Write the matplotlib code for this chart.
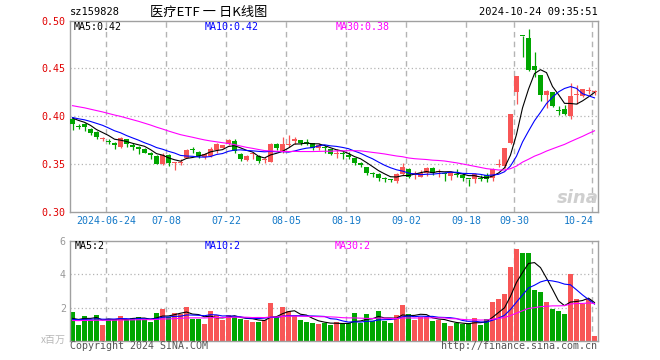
import math
import numpy as np
import matplotlib
matplotlib.use("Agg")
import matplotlib.pyplot as plt
import matplotlib.transforms as mtransforms

# ---------------- data ----------------
open_ = [0.397, 0.390, 0.392, 0.387, 0.383, 0.3765, 0.3737, 0.372, 0.368, 0.3757,
         0.3695, 0.368, 0.3653, 0.3615, 0.3583, 0.350, 0.359, 0.3512, 0.3513, 0.3563,
         0.3648, 0.3625, 0.3575, 0.3583, 0.3646, 0.3672, 0.3708, 0.3743, 0.3604, 0.3542,
         0.3601, 0.3583, 0.3546, 0.352, 0.3708, 0.3632, 0.3700, 0.3736, 0.375, 0.3716,
         0.3715, 0.3667, 0.3668, 0.3655, 0.3604, 0.3605, 0.3597, 0.3562, 0.3507, 0.3472,
         0.3397, 0.3396, 0.3342, 0.3335, 0.3326, 0.3396, 0.3451, 0.3389, 0.3368, 0.341,
         0.3458, 0.342, 0.3397, 0.3375, 0.339, 0.3389, 0.3342, 0.334, 0.335, 0.3382,
         0.3348, 0.3491, 0.3476, 0.3719, 0.4257, 0.4845, 0.4819, 0.4521, 0.4431, 0.4222,
         0.425, 0.4058, 0.4077, 0.4007, 0.4222, 0.4215, 0.4262, 0.4250]
high = [0.399, 0.392, 0.393, 0.388, 0.384, 0.3785, 0.3765, 0.3725, 0.378, 0.3764,
        0.3715, 0.369, 0.3667, 0.3625, 0.359, 0.3618, 0.360, 0.3525, 0.3555, 0.3653,
        0.368, 0.3635, 0.361, 0.3674, 0.3715, 0.370, 0.3764, 0.3757, 0.3611, 0.3597,
        0.3625, 0.359, 0.357, 0.3715, 0.3722, 0.3785, 0.3799, 0.3778, 0.375, 0.3757,
        0.3715, 0.3715, 0.3694, 0.3655, 0.366, 0.3632, 0.3625, 0.3562, 0.3521, 0.3472,
        0.3417, 0.341, 0.3368, 0.3347, 0.3403, 0.3514, 0.3458, 0.3424, 0.3438, 0.3465,
        0.3472, 0.3451, 0.3417, 0.3424, 0.3451, 0.3403, 0.3347, 0.341, 0.3382, 0.3403,
        0.3458, 0.3556, 0.3663, 0.4018, 0.4417, 0.4845, 0.491, 0.4674, 0.4431, 0.4271,
        0.425, 0.4104, 0.4118, 0.4347, 0.4326, 0.4285, 0.4306, 0.4271]
low = [0.386, 0.387, 0.384, 0.3805, 0.376, 0.3745, 0.371, 0.366, 0.367, 0.368,
       0.3646, 0.360, 0.361, 0.3556, 0.3495, 0.3493, 0.3483, 0.3435, 0.3485, 0.356,
       0.361, 0.3563, 0.3548, 0.3576, 0.361, 0.3669, 0.3701, 0.3611, 0.3535, 0.3535,
       0.3556, 0.3514, 0.3507, 0.352, 0.3646, 0.3618, 0.368, 0.3708, 0.3694, 0.3694,
       0.3646, 0.3646, 0.3611, 0.359, 0.3562, 0.3555, 0.3555, 0.3493, 0.3472, 0.3389,
       0.3361, 0.3326, 0.3306, 0.3306, 0.3299, 0.3382, 0.3354, 0.3347, 0.3361, 0.3375,
       0.3389, 0.3368, 0.3326, 0.3333, 0.3368, 0.3326, 0.3271, 0.330, 0.332, 0.3306,
       0.332, 0.3472, 0.3455, 0.3712, 0.4125, 0.4622, 0.447, 0.441, 0.416, 0.409,
       0.4097, 0.4014, 0.4014, 0.3972, 0.4125, 0.4201, 0.4236, 0.4222]
close = [0.392, 0.389, 0.389, 0.382, 0.378, 0.3768, 0.3733, 0.3695, 0.377, 0.371,
         0.3674, 0.3653, 0.3618, 0.3595, 0.350, 0.3597, 0.351, 0.3518, 0.352, 0.3645,
         0.3645, 0.3583, 0.360, 0.366, 0.3712, 0.3694, 0.375, 0.3639, 0.3549, 0.3583,
         0.3604, 0.3528, 0.355, 0.3708, 0.3667, 0.3708, 0.3702, 0.3757, 0.3715, 0.3714,
         0.3667, 0.3701, 0.3666, 0.3600, 0.3608, 0.3602, 0.3569, 0.3507, 0.3486, 0.341,
         0.3394, 0.3354, 0.334, 0.3333, 0.3396, 0.3465, 0.3361, 0.341, 0.341, 0.3458,
         0.3403, 0.3424, 0.3393, 0.3417, 0.3387, 0.3354, 0.3338, 0.339, 0.3346, 0.3341,
         0.3452, 0.3494, 0.3663, 0.4018, 0.4417, 0.4838, 0.4479, 0.4479, 0.4222, 0.4264,
         0.4111, 0.4055, 0.4021, 0.4215, 0.4230, 0.4280, 0.4265, 0.4255]
volume = [1.74, 0.98, 1.5, 1.26, 1.56, 0.98, 1.3, 1.3, 1.5, 1.3,
          1.36, 1.42, 1.3, 1.16, 1.68, 1.92, 1.45, 1.68, 1.6, 2.05,
          1.3, 1.3, 1.02, 1.8, 1.55, 1.26, 1.55, 1.42, 1.3, 1.26,
          1.16, 1.16, 1.26, 2.3, 1.42, 2.05, 1.8, 1.5, 1.26, 1.16,
          1.1, 1.04, 1.1, 0.96, 1.13, 1.02, 1.08, 1.68, 1.1, 1.62,
          1.18, 1.8, 1.22, 1.08, 1.56, 2.16, 1.62, 1.26, 1.42, 1.46,
          1.2, 1.26, 1.1, 0.92, 1.08, 1.0, 1.08, 1.38, 0.96, 1.34,
          2.34, 2.52, 2.8, 4.43, 5.5, 5.27, 5.27, 3.05, 2.93, 2.34,
          1.92, 1.8, 1.62, 4.0, 2.52, 2.2, 2.52, 0.3]
# closes / volumes of the 29 sessions before the first visible one (for the MA lines)
prior_close = [0.424, 0.422, 0.425, 0.421, 0.419, 0.422, 0.418, 0.420, 0.423, 0.419,
               0.417, 0.420, 0.418, 0.416, 0.419, 0.414, 0.410, 0.408, 0.406, 0.404,
               0.402, 0.400, 0.399, 0.398, 0.397, 0.401, 0.399, 0.398, 0.400]
prior_volume = [1.2, 1.1, 1.3, 1.2, 1.15, 1.25, 1.1, 1.2, 1.3, 1.15,
                1.2, 1.1, 1.25, 1.2, 1.15, 1.3, 1.2, 1.1, 1.25, 1.2,
                1.3, 1.2, 1.25, 1.3, 1.2, 1.3, 1.2, 1.25, 1.3]
tick_index = [6, 16, 26, 36, 46, 56, 66, 74, 87]
tick_labels = ["2024-06-24", "07-08", "07-22", "08-05", "08-19", "09-02", "09-18", "09-30", "10-24"]
price_ticks = [0.30, 0.35, 0.40, 0.45, 0.50]
volume_ticks = [2, 4, 6]

# ---------------- style ----------------
RED = "#f85656"
GREEN = "#00a600"
GRID = "#b4b4b4"
MONO = "DejaVu Sans Mono"
CJK = ["Noto Sans CJK SC", "DejaVu Sans"]
W, H = 660, 360

fig = plt.figure(figsize=(6.6, 3.6), dpi=100)
fig.patch.set_facecolor("white")


def px(x, y):
    return x / W, 1 - y / H


ax = fig.add_axes([70 / W, 1 - 211.7 / H, 528 / W, 191 / H])
axv = fig.add_axes([70 / W, 1 - 341 / H, 528 / W, 100 / H])

n = len(close)
xs = np.arange(n)
o = np.array(open_); h = np.array(high); l = np.array(low); c = np.array(close)
v = np.array(volume)
up = c >= o
cols = [RED if u else GREEN for u in up]

full_c = np.array(prior_close + close)
full_v = np.array(prior_volume + volume)
npre = len(prior_close)


def ma(arr, k):
    out = np.convolve(arr, np.ones(k) / k, mode="full")[:len(arr)]
    return out[npre:]


xmin, xmax = -2.5 / 6, (598 - 72.5) / 6

for a in (ax, axv):
    a.set_xlim(xmin, xmax)
    for s in a.spines.values():
        s.set_color("#a0a0a0")
        s.set_linewidth(1.0)
    a.set_xticks([])
    a.tick_params(axis="y", length=0, pad=3)
    for ti in tick_index:
        a.axvline(ti - 2.5 / 6, color=GRID, lw=1.0, ls=(0, (4, 3)), zorder=0)

# ---------- price panel ----------
ax.set_ylim(0.30, 0.50)
for t in price_ticks[1:-1]:
    ax.axhline(t, color=GRID, lw=0.9, ls=(0, (1, 2)), zorder=0)
ax.set_yticks(price_ticks)
ax.set_yticklabels([f"{t:.2f}" for t in price_ticks], color="#e00000",
                   fontsize=7.2, family=MONO)

ax.vlines(xs, l, h, colors=cols, lw=0.9, zorder=2)
body_bottom = np.minimum(o, c)
body_h = np.maximum(np.abs(c - o), 0.0011)
ax.bar(xs, body_h, bottom=body_bottom, width=0.8, color=cols, lw=0, zorder=3)

ma5 = ma(full_c, 5); ma10 = ma(full_c, 10); ma30 = ma(full_c, 30)
ax.plot(xs, ma5, color="black", lw=0.8, zorder=4)
ax.plot(xs, ma10, color="#0000ff", lw=0.8, zorder=4)
ax.plot(xs, ma30, color="#ff00ff", lw=0.8, zorder=4)

ax.text(*px(74, 27), f"MA5:{ma5[-1]:.2f}", transform=fig.transFigure, fontsize=7.2,
        family=MONO, color="black", va="center")
ax.text(*px(205, 27), f"MA10:{ma10[-1]:.2f}", transform=fig.transFigure, fontsize=7.2,
        family=MONO, color="#0000ff", va="center")
ax.text(*px(336, 27), f"MA30:{ma30[-1]:.2f}", transform=fig.transFigure, fontsize=7.2,
        family=MONO, color="#ff00ff", va="center")

# date labels
trans = mtransforms.blended_transform_factory(ax.transData, ax.transAxes)
for ti, lab in zip(tick_index, tick_labels):
    if ti == n - 1:
        ax.text(ti - 0.2, -0.025, lab, transform=trans, ha="right", va="top",
                fontsize=7.2, family=MONO, color="#1479c8")
    else:
        ax.text(ti - 2.5 / 6, -0.025, lab, transform=trans, ha="center", va="top",
                fontsize=7.2, family=MONO, color="#1479c8")

# sina watermark
fig.text(*px(578, 198), "sina", fontsize=13, style="italic", weight="bold",
         color="#cfcfcf", ha="center", va="center", family="DejaVu Sans")

# ---------- volume panel ----------
axv.set_ylim(0, 6)
for t in volume_ticks[:-1]:
    axv.axhline(t, color=GRID, lw=0.9, ls=(0, (1, 2)), zorder=0)
axv.set_yticks(volume_ticks)
axv.set_yticklabels([str(t) for t in volume_ticks], color="#999999",
                    fontsize=7.2, family=MONO)
axv.bar(xs, v, width=0.83, color=cols, lw=0, zorder=2)
vma5 = ma(full_v, 5); vma10 = ma(full_v, 10); vma30 = ma(full_v, 30)
axv.plot(xs, vma5, color="black", lw=0.8, zorder=4)
axv.plot(xs, vma10, color="#0000ff", lw=0.8, zorder=4)
axv.plot(xs, vma30, color="#ff00ff", lw=0.8, zorder=4)
fig.text(*px(75, 246), f"MA5:{vma5[-1]:.0f}", fontsize=7.2, family=MONO,
         color="black", va="center")
fig.text(*px(205, 246), f"MA10:{vma10[-1]:.0f}", fontsize=7.2, family=MONO,
         color="#0000ff", va="center")
fig.text(*px(335, 246), f"MA30:{vma30[-1]:.0f}", fontsize=7.2, family=MONO,
         color="#ff00ff", va="center")

fig.text(*px(66, 340), "x百万", fontsize=7.2, family=CJK, color="#b8b8b8",
         ha="right", va="center")
fig.text(*px(70, 346), "Copyright 2024 SINA.COM", fontsize=7.2, family=MONO,
         color="#555555", va="center")
fig.text(*px(597, 346), "http://finance.sina.com.cn", fontsize=7.2, family=MONO,
         color="#555555", va="center", ha="right")

# ---------- header ----------
fig.text(*px(70, 12), "sz159828", fontsize=7.5, family=MONO, color="black", va="center")
fig.text(*px(150, 12), "医疗ETF 一 日K线图", fontsize=9.5, family=CJK, color="black",
         va="center")
fig.text(*px(598, 12), "2024-10-24 09:35:51", fontsize=7.5, family=MONO, color="black",
         va="center", ha="right")

fig.savefig("out.png", dpi=100)
